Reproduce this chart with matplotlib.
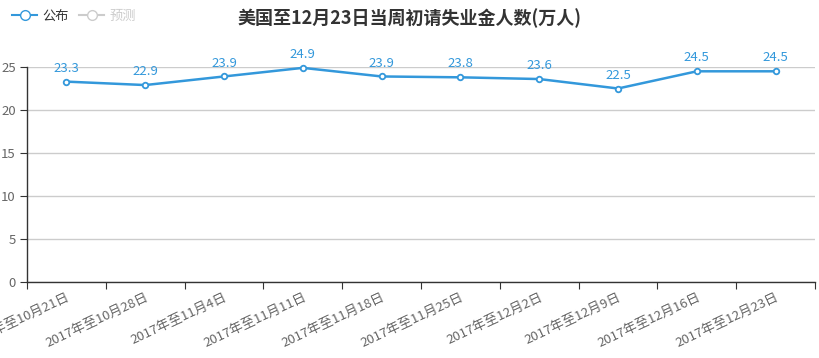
import matplotlib
matplotlib.use('Agg')
import matplotlib.pyplot as plt
from matplotlib.lines import Line2D

plt.rcParams['font.family'] = ['Noto Sans CJK SC', 'DejaVu Sans']

weeks = ['2017年至10月21日', '2017年至10月28日', '2017年至11月4日', '2017年至11月11日',
         '2017年至11月18日', '2017年至11月25日', '2017年至12月2日', '2017年至12月9日',
         '2017年至12月16日', '2017年至12月23日']
claims = [23.3, 22.9, 23.9, 24.9, 23.9, 23.8, 23.6, 22.5, 24.5, 24.5]
yticks = [0, 5, 10, 15, 20, 25]

blue = '#3398db'
grey_text = '#666666'

fig = plt.figure(figsize=(8.2, 3.58), dpi=100)
ax = fig.add_axes([27 / 820, 1 - 282 / 358, (815 - 27) / 820, (282 - 67) / 358])

x = list(range(len(weeks)))
ax.plot(x, claims, color=blue, linewidth=1.8, marker='o', markersize=4,
        markerfacecolor='white', markeredgecolor=blue, markeredgewidth=1.3,
        clip_on=False, zorder=3)
for xi, v in zip(x, claims):
    ax.text(xi, v + 0.8, f'{v}', color=blue, ha='center', va='bottom', fontsize=9.5)

ax.set_xlim(-0.5, len(weeks) - 0.5)
ax.set_ylim(0, 25)
ax.set_yticks(yticks)
ax.set_yticklabels([str(t) for t in yticks], color=grey_text, fontsize=9.5)
ax.grid(axis='y', color='#cccccc', linewidth=1)
ax.set_axisbelow(True)

ax.set_xticks([i - 0.5 for i in range(len(weeks) + 1)])
ax.set_xticklabels([])
ax.set_xticks(x, minor=True)
ax.set_xticklabels(weeks, minor=True, rotation=25, ha='right', va='top',
                   rotation_mode='anchor', color=grey_text, fontsize=9.5)
ax.tick_params(axis='x', which='minor', length=0, pad=6)
ax.tick_params(axis='x', which='major', length=5, color='#333333')
ax.tick_params(axis='y', length=5, color='#333333', pad=3)

for s in ['top', 'right']:
    ax.spines[s].set_visible(False)
for s in ['left', 'bottom']:
    ax.spines[s].set_color('#333333')
    ax.spines[s].set_linewidth(1)

fig.text(0.5, 1 - 18 / 358, '美国至12月23日当周初请失业金人数(万人)', ha='center', va='center',
         fontsize=13, fontweight='bold', color='#333333')

handles = [
    Line2D([], [], color=blue, marker='o', markersize=7, markerfacecolor='white',
           markeredgecolor=blue, linewidth=1.5),
    Line2D([], [], color='#cccccc', marker='o', markersize=7, markerfacecolor='white',
           markeredgecolor='#cccccc', linewidth=1.5),
]
leg = fig.legend(handles, ['公布', '预测'], loc='center left', bbox_to_anchor=(12 / 820, 1 - 16 / 358),
                 ncol=2, frameon=False, fontsize=9.5, handlelength=1.9, handletextpad=0.4,
                 columnspacing=0.8, borderaxespad=0, borderpad=0)
leg.get_texts()[0].set_color('#333333')
leg.get_texts()[1].set_color('#cccccc')

fig.savefig('out.png', dpi=100)
